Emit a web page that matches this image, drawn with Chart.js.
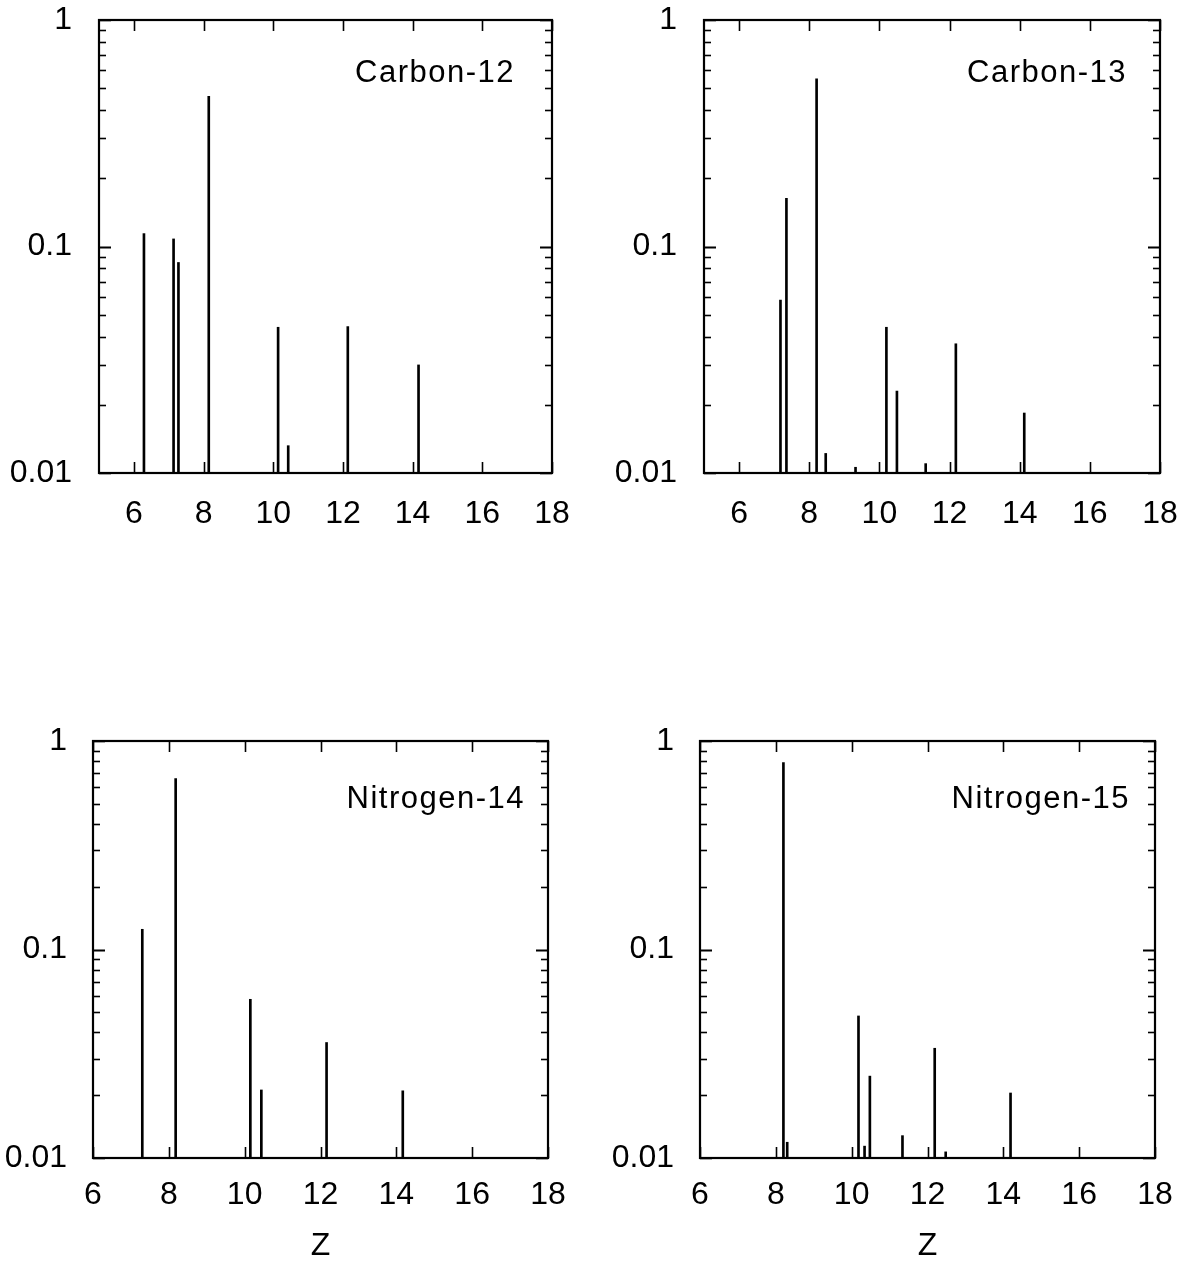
<!DOCTYPE html>
<html>
<head>
<meta charset="utf-8">
<script src="https://cdn.jsdelivr.net/npm/chart.js@4.4.1/dist/chart.umd.min.js"></script>
<style>
  body { margin: 0; background: #fff; }
  #wrap { position: relative; width: 1188px; height: 1265px; overflow: hidden; }
  canvas { position: absolute; }
</style>
</head>
<body>
<div id="wrap">
  <canvas id="c12" width="594" height="630" style="left:0;top:-30px"></canvas>
  <canvas id="c13" width="620" height="630" style="left:594px;top:-30px"></canvas>
  <canvas id="n14" width="594" height="665" style="left:0;top:600px"></canvas>
  <canvas id="n15" width="620" height="665" style="left:594px;top:600px"></canvas>
</div>
<script>
// fragment charge Z and relative yield
const c12Z = [6.29, 7.14, 7.28, 8.15, 10.14, 10.43, 12.14, 14.17];
const c12V = [0.114, 0.108, 0.085, 0.46, 0.044, 0.0132, 0.0443, 0.030];

const c13Z = [7.18, 7.35, 8.21, 8.47, 9.32, 10.20, 10.50, 11.32, 12.18, 14.13];
const c13V = [0.058, 0.163, 0.55, 0.0122, 0.0106, 0.044, 0.023, 0.011, 0.0372, 0.0184];

const n14Z = [7.30, 8.18, 10.15, 10.44, 12.16, 14.17];
const n14V = [0.125, 0.66, 0.0577, 0.0212, 0.0358, 0.021];

const n15Z = [8.20, 8.30, 10.18, 10.34, 10.48, 11.34, 12.19, 12.48, 14.19];
const n15V = [0.787, 0.0119, 0.048, 0.0114, 0.0247, 0.0128, 0.0336, 0.0107, 0.0205];

const xTicks = [6, 8, 10, 12, 14, 16, 18];
const yTicks = [0.01, 0.1, 1];
const yLabels = ['0.01', '0.1', '1'];

const FONT = '"Liberation Sans", Arial, Helvetica, sans-serif';

// box, inward ticks and the isotope name
const frameTicks = {
  id: 'frameTicks',
  afterDatasetsDraw(chart, args, opts) {
    const {ctx, chartArea: a, scales: {x, y}} = chart;
    const line = (x1, y1, x2, y2) => { ctx.beginPath(); ctx.moveTo(x1, y1); ctx.lineTo(x2, y2); ctx.stroke(); };
    ctx.save();
    ctx.strokeStyle = '#000';
    ctx.lineWidth = 1.6;
    for (let d = 0; d < yTicks.length - 1; d++) {
      for (let m = 1; m <= 10; m++) {
        const py = Math.round(y.getPixelForValue(yTicks[d] * m)) + 0.5;
        const len = (m === 1 || m === 10) ? 12 : 7;
        line(a.left, py, a.left + len, py);
        line(a.right, py, a.right - len, py);
      }
    }
    xTicks.forEach(v => {
      const px = Math.round(x.getPixelForValue(v)) + 0.5;
      line(px, a.bottom, px, a.bottom - 11);
      line(px, a.top, px, a.top + 11);
    });
    ctx.lineWidth = 2.2;
    ctx.strokeRect(a.left, a.top, a.right - a.left, a.bottom - a.top);
    ctx.fillStyle = '#000';
    ctx.font = '31px ' + FONT;
    ctx.letterSpacing = '1.5px';
    ctx.textAlign = 'right';
    ctx.textBaseline = 'alphabetic';
    ctx.fillText(opts.text, a.right - opts.dx, a.top + opts.dy);
    ctx.restore();
  }
};

function makePanel(id, name, zs, vs, cfg) {
  new Chart(document.getElementById(id), {
    type: 'bar',
    data: {
      datasets: [{
        data: zs.map((z, i) => ({x: z, y: vs[i]})),
        backgroundColor: '#000',
        borderWidth: 0,
        barThickness: 2
      }]
    },
    options: {
      responsive: false,
      animation: false,
      devicePixelRatio: 1,
      layout: {padding: {left: 0, top: cfg.top, right: cfg.right, bottom: cfg.bottom}},
      plugins: {
        legend: {display: false},
        tooltip: {enabled: false},
        frameTicks: {text: name, dx: cfg.dx, dy: cfg.dy}
      },
      scales: {
        x: {
          type: 'linear',
          offset: false,
          min: cfg.xmin,
          max: 18,
          grid: {display: false, drawTicks: false},
          border: {display: false},
          afterBuildTicks: s => { s.ticks = xTicks.map(v => ({value: v})); },
          afterFit: s => { s.height = cfg.xh; },
          ticks: {
            font: {family: FONT, size: 32},
            color: '#000',
            padding: cfg.xpad,
            maxRotation: 0,
            autoSkip: false
          },
          title: {
            display: cfg.title,
            text: 'Z',
            font: {family: FONT, size: 32},
            color: '#000',
            padding: {top: 0, bottom: 0}
          }
        },
        y: {
          type: 'logarithmic',
          min: 0.01,
          max: 1,
          grid: {display: false, drawTicks: false},
          border: {display: false},
          afterBuildTicks: s => { s.ticks = yTicks.map(v => ({value: v})); },
          afterFit: s => { s.width = cfg.left; },
          ticks: {
            font: {family: FONT, size: 32},
            color: '#000',
            padding: cfg.ypad,
            autoSkip: false,
            callback: (v, i) => yLabels[i]
          }
        }
      }
    },
    plugins: [frameTicks]
  });
}

makePanel('c12', 'Carbon-12', c12Z, c12V,
  {xmin: 5, left: 99, top: 50, right: 42, bottom: 67, xh: 60, xpad: 22, ypad: 27, title: false, dx: 37, dy: 62});
makePanel('c13', 'Carbon-13', c13Z, c13V,
  {xmin: 5, left: 110, top: 50, right: 54, bottom: 67, xh: 60, xpad: 22, ypad: 27, title: false, dx: 33, dy: 62});
makePanel('n14', 'Nitrogen-14', n14Z, n14V,
  {xmin: 6, left: 93, top: 141, right: 46, bottom: 0, xh: 107, xpad: 18, ypad: 26, title: true, dx: 23, dy: 67});
makePanel('n15', 'Nitrogen-15', n15Z, n15V,
  {xmin: 6, left: 106, top: 141, right: 59, bottom: 0, xh: 107, xpad: 18, ypad: 26, title: true, dx: 25, dy: 67});
</script>
</body>
</html>
